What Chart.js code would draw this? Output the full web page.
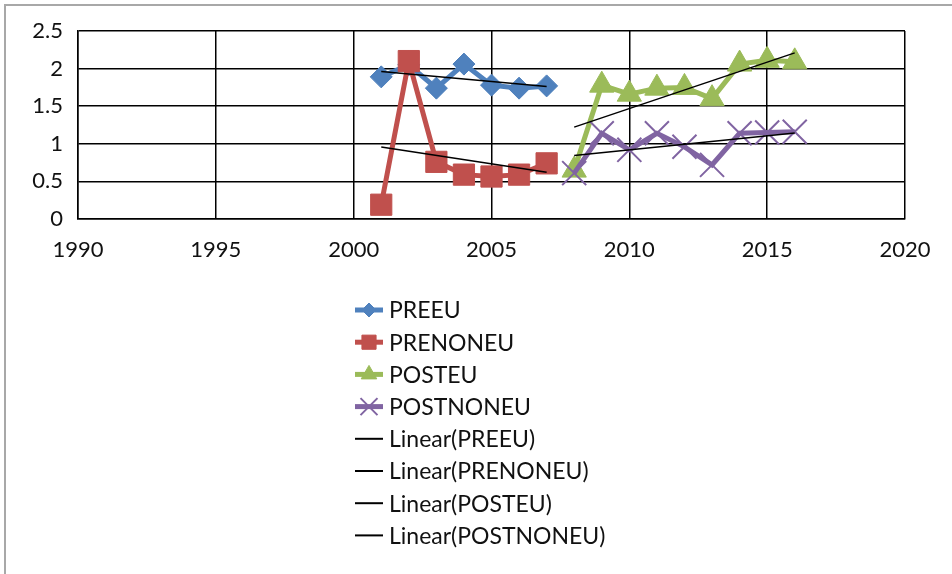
<!DOCTYPE html>
<html>
<head>
<meta charset="utf-8">
<script src="https://cdn.jsdelivr.net/npm/chart.js@4/dist/chart.umd.min.js"></script>
<style>
  html, body { margin: 0; padding: 0; background: #fff; }
  #wrap { width: 952px; height: 574px; position: relative; }
</style>
</head>
<body>
<div id="wrap"><canvas id="c" width="952" height="574"></canvas></div>
<script>
// Years covered by each period
const preYears  = [2001, 2002, 2003, 2004, 2005, 2006, 2007];
const postYears = [2008, 2009, 2010, 2011, 2012, 2013, 2014, 2015, 2016];

// Series values
const preEU     = [1.89, 2.05, 1.74, 2.06, 1.78, 1.74, 1.77];
const preNonEU  = [0.19, 2.10, 0.76, 0.59, 0.565, 0.59, 0.74];
const postEU    = [0.65, 1.78, 1.66, 1.74, 1.75, 1.60, 2.06, 2.11, 2.09];
const postNonEU = [0.61, 1.14, 0.92, 1.14, 0.96, 0.72, 1.14, 1.15, 1.16];

// Axis ticks
const xTicks = [1990, 1995, 2000, 2005, 2010, 2015, 2020];
const yTicks = [0, 0.5, 1, 1.5, 2, 2.5];

const FONT = 'Lato, "Open Sans", sans-serif';

const toPoints = (xs, ys) => xs.map((x, i) => ({ x, y: ys[i] }));

// Least-squares trend line, evaluated at the first and last year of the series
function linearFit(xs, ys) {
  const n = xs.length;
  const mx = xs.reduce((a, b) => a + b, 0) / n;
  const my = ys.reduce((a, b) => a + b, 0) / n;
  let sxy = 0, sxx = 0;
  for (let i = 0; i < n; i++) {
    sxy += (xs[i] - mx) * (ys[i] - my);
    sxx += (xs[i] - mx) * (xs[i] - mx);
  }
  const slope = sxy / sxx;
  const b = my - slope * mx;
  return [xs[0], xs[n - 1]].map(x => ({ x, y: b + slope * x }));
}

const series = [
  { label: 'PREEU',     xs: preYears,  ys: preEU,     color: '#4F81BD', style: 'rectRot',  r: 11, lr: 7,  bw: 1, order: 4 },
  { label: 'PRENONEU',  xs: preYears,  ys: preNonEU,  color: '#C0504D', style: 'rect',     r: 15, lr: 10, bw: 1, order: 3 },
  { label: 'POSTEU',    xs: postYears, ys: postEU,    color: '#9BBB59', style: 'triangle', r: 14, lr: 9,  bw: 1, order: 2 },
  { label: 'POSTNONEU', xs: postYears, ys: postNonEU, color: '#8064A2', style: 'crossRot', r: 17, lr: 12, bw: 2, order: 1 }
];

const datasets = [];
series.forEach(s => {
  datasets.push({
    label: s.label,
    data: toPoints(s.xs, s.ys),
    borderColor: s.color,
    backgroundColor: s.color,
    borderWidth: 5,
    pointStyle: s.style,
    pointRadius: s.r,
    pointBorderWidth: s.bw,
    pointBorderColor: s.color,
    pointBackgroundColor: s.color,
    tension: 0,
    order: s.order
  });
});
series.forEach(s => {
  datasets.push({
    label: 'Linear(' + s.label + ')',
    data: linearFit(s.xs, s.ys),
    borderColor: '#000',
    borderWidth: 1.5,
    pointRadius: 0,
    order: 0
  });
});

// Grey frame along the top and left edges
const framePlugin = {
  id: 'frame',
  beforeDraw(chart) {
    const ctx = chart.ctx;
    ctx.save();
    ctx.fillStyle = '#fff';
    ctx.fillRect(0, 0, chart.width, chart.height);
    ctx.strokeStyle = '#a8a8a8';
    ctx.lineWidth = 2;
    ctx.beginPath();
    ctx.moveTo(5, chart.height);
    ctx.lineTo(5, 5);
    ctx.lineTo(chart.width, 5);
    ctx.stroke();
    ctx.restore();
  }
};

// Vertical legend below the plot
const legendPlugin = {
  id: 'stackLegend',
  afterDraw(chart) {
    const ctx = chart.ctx;
    const x0 = 355, x1 = 383, tx = 389, top = 310, step = 32.2;
    ctx.save();
    ctx.font = '23px ' + FONT;
    ctx.textBaseline = 'middle';
    ctx.textAlign = 'left';
    chart.data.datasets.forEach((ds, i) => {
      const y = top + i * step;
      const s = series[i];
      ctx.strokeStyle = ds.borderColor;
      ctx.lineWidth = s ? 5 : 2;
      ctx.beginPath();
      ctx.moveTo(x0, y);
      ctx.lineTo(x1, y);
      ctx.stroke();
      if (s) {
        ctx.fillStyle = s.color;
        ctx.strokeStyle = s.color;
        ctx.lineWidth = s.bw;
        Chart.helpers.drawPoint(ctx, { pointStyle: s.style, radius: s.lr, borderWidth: s.bw, rotation: 0 }, (x0 + x1) / 2, y);
      }
      ctx.fillStyle = '#111';
      ctx.fillText(ds.label, tx, y + 1);
    });
    ctx.restore();
  }
};

new Chart(document.getElementById('c'), {
  type: 'line',
  data: { datasets },
  plugins: [framePlugin, legendPlugin],
  options: {
    responsive: false,
    animation: false,
    events: [],
    layout: { padding: { left: 0, top: 31, right: 47, bottom: 0 } },
    plugins: { legend: { display: false }, tooltip: { enabled: false } },
    scales: {
      x: {
        type: 'linear',
        min: 1990, max: 2020,
        afterBuildTicks: s => { s.ticks = xTicks.map(v => ({ value: v })); },
        afterFit: s => { s.height = 355; },
        grid: { color: '#000', lineWidth: 1.5, drawTicks: false },
        border: { display: true, color: '#000', width: 1.5 },
        ticks: { color: '#111', padding: 18, font: { family: FONT, size: 22 }, callback: v => String(v), maxRotation: 0 }
      },
      y: {
        type: 'linear',
        min: 0, max: 2.5,
        afterBuildTicks: s => { s.ticks = yTicks.map(v => ({ value: v })); },
        afterFit: s => { s.width = 78; },
        grid: { color: '#000', lineWidth: 1.5, drawTicks: false },
        border: { display: true, color: '#000', width: 1.5 },
        ticks: { color: '#111', padding: 15, font: { family: FONT, size: 22 }, callback: v => String(v) }
      }
    }
  }
});
</script>
</body>
</html>
